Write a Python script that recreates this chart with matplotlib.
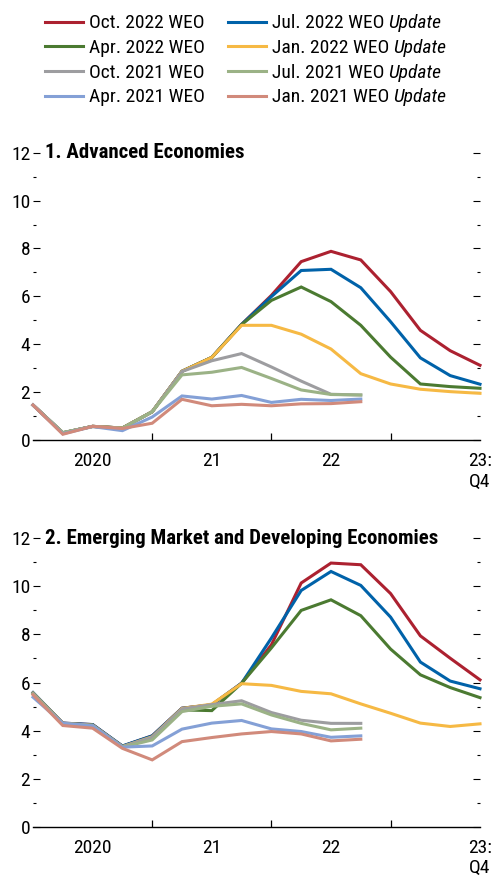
import matplotlib
matplotlib.use('Agg')
import matplotlib.pyplot as plt
from matplotlib.ticker import FixedLocator

FONT = 'Roboto Condensed'
plt.rcParams['font.family'] = [FONT, 'DejaVu Sans']

# ---------------- data ----------------
quarters = list(range(16))          # 2020:Q1 ... 2023:Q4
x_labels = ['2020', '21', '22', '23:\nQ4']
x_label_pos = [2, 6, 10, 15]
year_ticks = [4, 8, 12]

vintages = ['Oct. 2022 WEO', 'Jul. 2022 WEO', 'Apr. 2022 WEO', 'Jan. 2022 WEO',
            'Oct. 2021 WEO', 'Jul. 2021 WEO', 'Apr. 2021 WEO', 'Jan. 2021 WEO']
vintage_suffix = ['', 'Update', '', 'Update', '', 'Update', '', 'Update']
colors = ['#AC2130', '#0062A9', '#4B7A31', '#F6B944',
          '#9D9DA0', '#9BB286', '#84A0D6', '#D18A7B']

ae_oct22 = [1.46, 0.30, 0.57, 0.50, 1.18, 2.87, 3.45, 4.83, 6.04, 7.45, 7.88, 7.52, 6.20, 4.58, 3.73, 3.12]
ae_jul22 = [1.46, 0.30, 0.57, 0.50, 1.18, 2.87, 3.45, 4.83, 5.99, 7.08, 7.13, 6.36, 4.94, 3.43, 2.69, 2.33]
ae_apr22 = [1.46, 0.30, 0.57, 0.50, 1.18, 2.87, 3.45, 4.82, 5.83, 6.39, 5.78, 4.79, 3.46, 2.34, 2.23, 2.16]
ae_jan22 = [1.46, 0.30, 0.57, 0.50, 1.18, 2.87, 3.45, 4.79, 4.79, 4.42, 3.80, 2.77, 2.34, 2.12, 2.02, 1.95]
ae_oct21 = [1.46, 0.30, 0.57, 0.49, 1.18, 2.86, 3.31, 3.61, 3.05, 2.46, 1.91, 1.88]
ae_jul21 = [1.46, 0.31, 0.56, 0.49, 1.18, 2.72, 2.83, 3.03, 2.57, 2.09, 1.90, 1.88]
ae_apr21 = [1.46, 0.26, 0.56, 0.39, 0.96, 1.84, 1.71, 1.86, 1.57, 1.70, 1.65, 1.71]
ae_jan21 = [1.46, 0.24, 0.57, 0.48, 0.70, 1.70, 1.43, 1.49, 1.43, 1.51, 1.52, 1.60]

em_oct22 = [5.57, 4.31, 4.25, 3.35, 3.78, 4.93, 5.07, 5.97, 7.57, 10.14, 10.97, 10.90, 9.70, 7.94, 7.01, 6.11]
em_jul22 = [5.58, 4.31, 4.25, 3.36, 3.78, 4.93, 5.07, 5.97, 7.85, 9.83, 10.62, 10.04, 8.72, 6.85, 6.06, 5.74]
em_apr22 = [5.55, 4.30, 4.22, 3.33, 3.68, 4.86, 4.83, 5.97, 7.44, 9.00, 9.44, 8.78, 7.39, 6.32, 5.79, 5.37]
em_jan22 = [5.55, 4.30, 4.22, 3.33, 3.74, 4.92, 5.10, 5.95, 5.88, 5.63, 5.53, 5.11, 4.72, 4.31, 4.17, 4.28]
em_oct21 = [5.55, 4.30, 4.22, 3.33, 3.72, 4.90, 5.08, 5.24, 4.75, 4.43, 4.30, 4.30]
em_jul21 = [5.52, 4.28, 4.20, 3.31, 3.61, 4.79, 5.01, 5.11, 4.65, 4.30, 4.03, 4.10]
em_apr21 = [5.39, 4.30, 4.20, 3.31, 3.36, 4.06, 4.31, 4.42, 4.07, 3.96, 3.72, 3.78]
em_jan21 = [5.49, 4.21, 4.10, 3.26, 2.78, 3.54, 3.71, 3.86, 3.96, 3.86, 3.57, 3.64]

ae_series = [ae_oct22, ae_jul22, ae_apr22, ae_jan22, ae_oct21, ae_jul21, ae_apr21, ae_jan21]
em_series = [em_oct22, em_jul22, em_apr22, em_jan22, em_oct21, em_jul21, em_apr21, em_jan21]
titles = ['1. Advanced Economies', '2. Emerging Market and Developing Economies']

# ---------------- figure ----------------
W, H = 495, 876
fig = plt.figure(figsize=(W / 100, H / 100), dpi=100)

def px_axes(left, top, right, bottom):
    return fig.add_axes([left / W, 1 - bottom / H, (right - left) / W, (bottom - top) / H])

ax1 = px_axes(33, 152.7, 480, 440)
ax2 = px_axes(33, 538.3, 480, 826.7)

FS = 14
handles = []
for ax, series, title in [(ax1, ae_series, titles[0]), (ax2, em_series, titles[1])]:
    hs = []
    for i, (vals, c, lab) in enumerate(zip(series, colors, vintages)):
        ln, = ax.plot(quarters[:len(vals)], vals, color=c, lw=2.2, label=lab,
                      zorder=2 + i, solid_joinstyle='miter', clip_on=False)
        hs.append(ln)
    handles = hs if not handles else handles
    ax.set_xlim(0, 15)
    ax.set_ylim(0, 12)
    for s in ['top', 'left', 'right']:
        ax.spines[s].set_visible(False)
    ax.spines['bottom'].set_linewidth(1.0)
    ax.spines['bottom'].set_zorder(20)
    ax.set_yticks(range(0, 13, 2))
    ax.yaxis.set_minor_locator(FixedLocator(range(1, 12, 2)))
    ax.tick_params(axis='y', which='major', direction='in', length=5, width=0.8,
                   left=True, right=True, labelleft=True, labelsize=FS, pad=2)
    ax.tick_params(axis='y', which='minor', direction='in', length=2.2, width=0.8,
                   left=True, right=True)
    ax.set_xticks(year_ticks)
    ax.set_xticklabels([])
    ax.xaxis.set_minor_locator(FixedLocator(x_label_pos))
    ax.set_xticklabels(x_labels, minor=True, linespacing=1.15)
    ax.tick_params(axis='x', which='major', direction='in', length=5, width=0.9)
    ax.tick_params(axis='x', which='minor', length=0, labelsize=FS, pad=9)
    ax.text(0.027, 12, title, transform=ax.get_yaxis_transform(), fontsize=15,
            fontweight='bold', va='center', ha='left')
    ax.set_facecolor('none')

order = [0, 2, 4, 6, 1, 3, 5, 7]
leg = fig.legend([handles[i] for i in order], [vintages[i] for i in order],
                 ncol=2, loc='upper left', bbox_to_anchor=(45 / W, 1 - 14.5 / H),
                 frameon=False, fontsize=FS, handlelength=1.95, handletextpad=0.3,
                 columnspacing=1.2, labelspacing=0.34, borderpad=0, borderaxespad=0)

# italic "Update" suffixes appended after the legend labels
fig.canvas.draw()
renderer = fig.canvas.get_renderer()
for idx, txt in zip(order, leg.get_texts()):
    suffix = vintage_suffix[idx]
    if not suffix:
        continue
    bb = txt.get_window_extent(renderer)
    fig.text((bb.x1 + 4.5) / W, bb.y0 / H, suffix, fontsize=FS, style='italic',
             ha='left', va='bottom')

fig.savefig('out.png', dpi=100)
